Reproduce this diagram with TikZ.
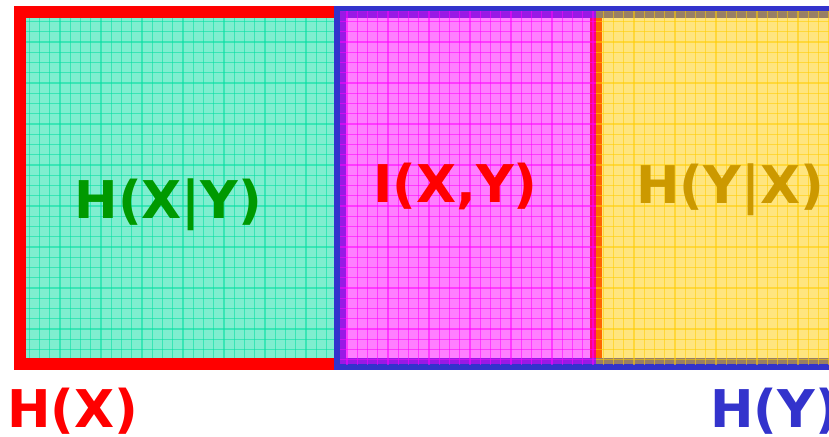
\documentclass[tikz,border=0pt]{standalone}
\usepackage{fontspec}
\setmainfont{DejaVu Sans}
\definecolor{cyanbase}{RGB}{0,222,160}
\definecolor{magbase}{RGB}{255,0,255}
\definecolor{yelbase}{RGB}{255,204,0}
\definecolor{bluebd}{RGB}{51,51,204}
\definecolor{txtgreen}{RGB}{0,153,0}
\definecolor{txtgold}{RGB}{204,153,0}
\tikzset{
  lbl/.style={inner sep=0pt, anchor=base, font=\fontsize{52}{60}\selectfont\bfseries},
  gline/.style={line width=1.2pt, opacity=0.55},
}
\newcommand\gridregion[5]{%
  \begin{scope}
    \clip (#1,#2) rectangle (#3,#4);
    \fill[#5, opacity=0.5] (#1,#2) rectangle (#3,#4);
    \foreach \i in {-1,...,82} \draw[gline,#5] ({8.8+10.25*\i},0) -- ({8.8+10.25*\i},440);
    \foreach \j in {-1,...,43} \draw[gline,#5] (0,{1.05+10.25*\j}) -- (840,{1.05+10.25*\j});
  \end{scope}}
\begin{document}
\begin{tikzpicture}[x=1pt,y=-1pt]
\useasboundingbox (0,0) rectangle (829,436);
% H(X|Y) region
\gridregion{20}{12}{340}{364}{cyanbase}
% H(X) border
\draw[red, line width=12pt] (20,12) rectangle (596,364);
% H(Y) border
\draw[bluebd, line width=12pt] (340,12) rectangle (850,364);
% I(X,Y) region
\gridregion{340}{12}{596}{364}{magbase}
% H(Y|X) region
\gridregion{596}{12}{850}{364}{yelbase}
% labels
\node[lbl, text=txtgreen] (hxy) at (168.5,218) {H(X|Y)};
\node[lbl, text=red] (ixy) at (455.5,202) {I(X,Y)};
\node[lbl, text=txtgold] (hyx) at (730,203) {H(Y|X)};
\node[lbl, text=red] (hx) at (73,427) {H(X)};
\node[lbl, text=bluebd, anchor=base west] (hy) at (710,427) {H(Y)};
\end{tikzpicture}
\end{document}
